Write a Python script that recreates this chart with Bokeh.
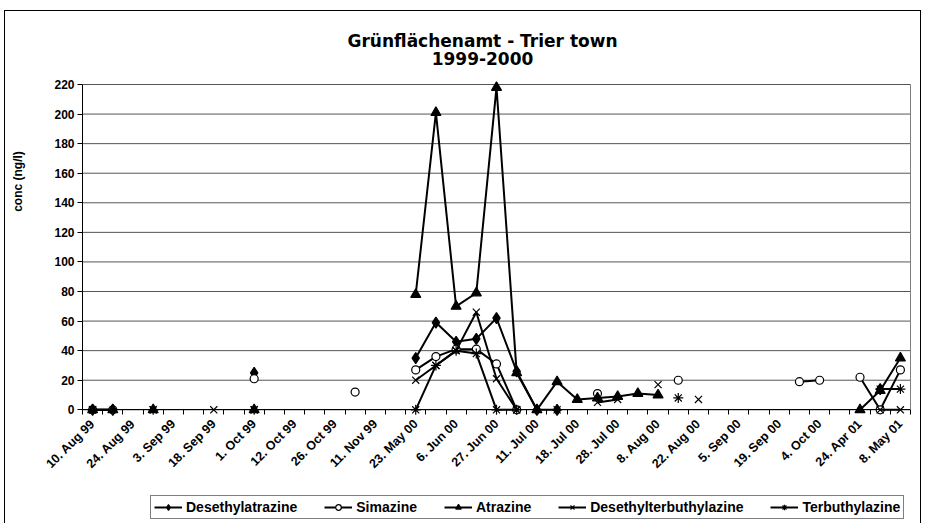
import math
import numpy as np
from bokeh.plotting import figure
from bokeh.models import Range1d, FixedTicker, LinearAxis, Legend, LegendItem
from bokeh.core.properties import value
from bokeh.embed import file_html
from bokeh.resources import INLINE

N = None

# 41 sampling slots, a tick label on every other slot
tick_labels = ["10. Aug 99", "24. Aug 99", "3. Sep 99", "18. Sep 99", "1. Oct 99",
               "12. Oct 99", "26. Oct 99", "11. Nov 99", "23. May 00", "6. Jun 00",
               "27. Jun 00", "11. Jul 00", "18. Jul 00", "28. Jul 00", "8. Aug 00",
               "22. Aug 00", "5. Sep 00", "19. Sep 00", "4. Oct 00", "24. Apr 01",
               "8. May 01"]
slots = list(range(41))
label_slots = slots[::2]

desethylatrazine = [0, 0, N, N, N, N, N, N, 25, N,
                    N, N, N, N, N, N, 35, 59, 46, 48,
                    62, 26, 0, 0, N, N, N, N, N, N,
                    N, N, N, N, N, N, N, N, N, 14, N]
simazine = [0, 0, N, N, N, N, N, N, 21, N,
            N, N, N, 12, N, N, 27, 36, 41, 41,
            31, 0, N, N, N, 11, N, N, N, 20,
            N, N, N, N, N, 19, 20, N, 22, 0, 27]
atrazine = [0, 0, N, 0, N, N, N, N, 0, N,
            N, N, N, N, N, N, 78, 201, 70, 79,
            218, 25, 0, 19, 7, 8, 9, 11, 10, N,
            N, N, N, N, N, N, N, N, 0, 13, 35]
desethylterbuthylazine = [0, N, N, 0, N, N, 0, N, 0, N,
                          N, N, N, N, N, N, 20, 30, 40, 66,
                          21, 0, N, N, N, 5, 7, N, 17, N,
                          7, N, N, N, N, N, N, N, N, 0, 0]
terbuthylazine = [0, N, N, 0, N, N, N, N, 0, N,
                  N, N, N, N, N, N, 0, 30, 40, 38,
                  0, 0, N, 0, N, N, N, N, N, 8,
                  N, N, N, N, N, N, N, N, N, 14, 14]

series_names = ["Desethylatrazine", "Simazine", "Atrazine",
                "Desethylterbuthylazine", "Terbuthylazine"]
series_values = [desethylatrazine, simazine, atrazine,
                 desethylterbuthylazine, terbuthylazine]
title_lines = ["Grünflächenamt - Trier town", "1999-2000"]
y_title = "conc (ng/l)"
yticks = list(range(0, 221, 20))


def arr(v):
    return np.array([np.nan if a is None else a for a in v], dtype=float)


FONT = "Liberation Sans"

# layout geometry (page pixels)
W, H = 917, 513
BORDER_X, BORDER_Y = 4, 10
CONTENT_L, CONTENT_T = BORDER_X + 1, BORDER_Y + 1
CONTENT_R, CONTENT_B = CONTENT_L + W, CONTENT_T + H
PLOT_L, PLOT_R = 82.0, 910.0          # plot area, page x
ZERO_Y = 409.3                        # page y of value 0
K = 325.3 / 220.0                     # pixels per unit (y)
CAT_PX = (PLOT_R - PLOT_L) / len(slots)
X_FIRST, X_LAST = slots[0] - 0.5, slots[-1] + 0.5

x_lo = X_FIRST - (PLOT_L - CONTENT_L) / CAT_PX
x_hi = X_LAST + (CONTENT_R - PLOT_R) / CAT_PX
y_lo = (ZERO_Y - CONTENT_B) / K
y_hi = (ZERO_Y - CONTENT_T) / K


def x_at(page_x):
    return X_FIRST + (page_x - PLOT_L) / CAT_PX


def y_at(page_y):
    return (ZERO_Y - page_y) / K


p = figure(width=W, height=H, x_range=Range1d(x_lo, x_hi), y_range=Range1d(y_lo, y_hi),
           output_backend="svg", toolbar_location=None,
           min_border_left=0, min_border_right=0, min_border_top=0, min_border_bottom=0)
p.styles = {"border-left": "1px solid #000000", "border-top": "1px solid #000000",
            "border-right": "1px solid #000000",
            "margin-left": f"{BORDER_X}px", "margin-top": f"{BORDER_Y}px"}
p.outline_line_color = None
p.background_fill_color = "white"
p.border_fill_color = "white"
p.grid.visible = False

# horizontal gridlines across the plot area
p.segment(x0=[X_FIRST] * len(yticks), x1=[X_LAST] * len(yticks), y0=yticks, y1=yticks,
          line_color="#555555", line_width=1)

ya = p.yaxis[0]
ya.fixed_location = X_FIRST
ya.ticker = FixedTicker(ticks=yticks)
ya.bounds = (0, 220)
ya.major_tick_out = 5
ya.major_tick_in = 0
ya.minor_tick_out = 0
ya.minor_tick_in = 0
ya.axis_line_color = "black"
ya.major_tick_line_color = "black"
ya.major_label_text_font = FONT
ya.major_label_text_font_style = "bold"
ya.major_label_text_font_size = "12px"
ya.major_label_text_color = "black"
ya.major_label_standoff = 3

xa = p.xaxis[0]
xa.fixed_location = 0
xa.bounds = (X_FIRST, X_LAST)
xa.ticker = FixedTicker(ticks=label_slots,
                        minor_ticks=[s - 0.5 for s in slots] + [X_LAST])
xa.major_label_overrides = {s: lab for s, lab in zip(label_slots, tick_labels)}
xa.major_tick_out = 0
xa.major_tick_in = 0
xa.minor_tick_out = 5
xa.minor_tick_in = 0
xa.minor_tick_line_color = "black"
xa.axis_line_color = "black"
xa.major_label_orientation = math.pi / 4
xa.major_label_text_font = FONT
xa.major_label_text_font_style = "bold"
xa.major_label_text_font_size = "12.5px"
xa.major_label_text_color = "black"
xa.major_label_standoff = 7

ra = LinearAxis(ticker=FixedTicker(ticks=[]), bounds=(0, 220), axis_line_color="#808080",
                fixed_location=X_LAST, major_tick_out=0, minor_tick_out=0,
                major_label_text_font_size="0px")
p.add_layout(ra, "right")

# y-axis title
p.text(x=[x_at(17)], y=[y_at(181)], text=[y_title], angle=math.pi / 2,
       text_align="center", text_baseline="middle", text_font=value(FONT),
       text_font_style="bold", text_font_size="12px", text_color="black")

# chart title (two centred lines)
p.text(x=[x_at(482)] * 2, y=[y_at(40), y_at(58)], text=title_lines,
       text_align="center", text_baseline="middle", text_font=value("DejaVu Sans"),
       text_font_style="bold", text_font_size="17px", text_color="black")

markers = ["diamond", "circle", "triangle", "x", "asterisk"]
sizes = [11, 8, 10, 10, 10]
fills = ["black", "white", "black", None, None]

items = []
for name, vals, mk, sz, fc in zip(series_names, series_values, markers, sizes, fills):
    y = arr(vals)
    lr = p.line(slots, y, line_color="black", line_width=2)
    sr = p.scatter(slots, y, marker=mk, size=sz, line_color="black",
                   fill_color=fc if fc else "black", line_width=1.2)
    items.append(LegendItem(label=name, renderers=[lr, sr]))

legend = Legend(items=items, orientation="horizontal",
                location=(150 - CONTENT_L, CONTENT_B - 519),
                border_line_color="black", border_line_width=1,
                label_text_font=FONT, label_text_font_style="bold",
                label_text_font_size="14px", label_text_color="black",
                glyph_width=28, glyph_height=14, label_height=14, label_standoff=4,
                spacing=27, padding=3, margin=0, background_fill_color="white",
                background_fill_alpha=1.0)
p.add_layout(legend)

open("out.html", "w").write(file_html(p, INLINE))
